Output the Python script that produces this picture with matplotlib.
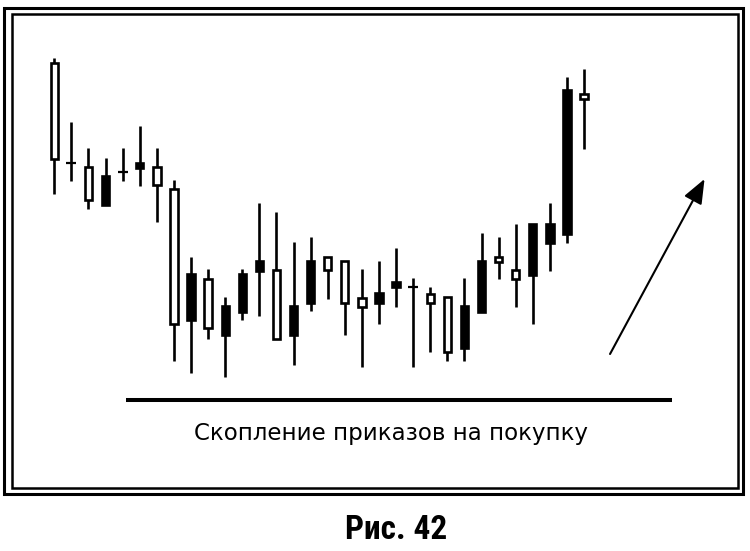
import matplotlib
matplotlib.use("Agg")
import matplotlib.pyplot as plt
from matplotlib.patches import Rectangle, FancyArrowPatch

# candle prices (arbitrary units), one entry per bar
opens  = [261, 256.7, 219.7, 244.3, 248.3, 257, 235, 96, 146, 91.7, 114, 146, 159, 81, 114, 159,
          149.7, 117.3, 113.3, 126.7, 137.7, 133, 117.3, 68, 114, 159, 158, 141, 195.7, 195.7, 330, 320.7]
highs  = [361.7, 298, 272.3, 261.7, 272.3, 293.7, 272.3, 240, 163.3, 150.7, 122.7, 150.7, 216.7, 208, 178.3, 182.7,
          163, 158.7, 150.7, 159, 172.3, 142.3, 133.3, 122.7, 142.3, 187, 182.7, 195.7, 195.7, 216.7, 342.7, 351]
lows   = [226, 239, 211, 215.3, 238.7, 234.3, 198.3, 59.3, 46.7, 80.7, 42.7, 100, 104.3, 81, 55, 109,
          121, 85, 52.7, 95.7, 113, 53, 67.7, 59.3, 59.3, 108.3, 140.7, 113, 95.7, 149, 176.7, 270.7]
closes = [357.3, 256.7, 252.7, 215.3, 248.3, 251.7, 253, 231, 100, 141.3, 85, 108.3, 149, 150, 85, 117.3,
          163, 158.7, 122.3, 117.3, 132.7, 133, 126, 122.7, 72.3, 108.3, 163, 150, 145, 176.7, 185.7, 325.7]

support_level = 20.5
support_from, support_to = 4.2, 36.15
arrow_tail = (32.52, 66)
arrow_head = (38.05, 241)

caption = "Скопление приказов на покупку"
fig_title = "Рис. 42"

fig = plt.figure(figsize=(7.5, 5.51), dpi=100)
ax = fig.add_axes([0, 0, 1, 1])
ax.set_xlim(-3.177, 40.71)
ax.set_ylim(-131, 420)
ax.axis("off")

body_w = 0.43
for i in range(len(opens)):
    o, h, l, c = opens[i], highs[i], lows[i], closes[i]
    ax.plot([i, i], [l, h], color="black", lw=1.9, solid_capstyle="butt", zorder=2)
    if o == c:
        ax.plot([i - 0.29, i + 0.29], [o, o], color="black", lw=1.6, solid_capstyle="butt", zorder=3)
        continue
    face = "white" if c > o else "black"
    ax.add_patch(Rectangle((i - body_w / 2, min(o, c)), body_w, abs(c - o),
                           facecolor=face, edgecolor="black", lw=1.9, zorder=3))

# support line
ax.plot([support_from, support_to], [support_level, support_level], color="black", lw=2.9,
        solid_capstyle="butt")

# rising arrow
ax.add_patch(FancyArrowPatch(arrow_tail, arrow_head, arrowstyle="-|>,head_length=1.0,head_width=0.4",
                             mutation_scale=15, lw=1.5, color="black", shrinkA=0, shrinkB=0))

# double frame
fig.patches.append(Rectangle((4 / 750, 1 - 494 / 551), 739 / 750, 486 / 551, transform=fig.transFigure,
                             fill=False, edgecolor="black", lw=2.2))
fig.patches.append(Rectangle((12 / 750, 1 - 488 / 551), 726 / 750, 474 / 551, transform=fig.transFigure,
                             fill=False, edgecolor="black", lw=1.8))

fig.text(391 / 750, 1 - 440 / 551, caption, ha="center", va="baseline", fontsize=16.5,
         family=["DejaVu Sans"])
fig.text(396 / 750, 1 - 539 / 551, fig_title, ha="center", va="baseline", fontsize=24, fontweight="bold",
         family=["Roboto Condensed", "Liberation Sans Narrow", "Roboto", "DejaVu Sans"])

fig.savefig("out.png", dpi=100)
